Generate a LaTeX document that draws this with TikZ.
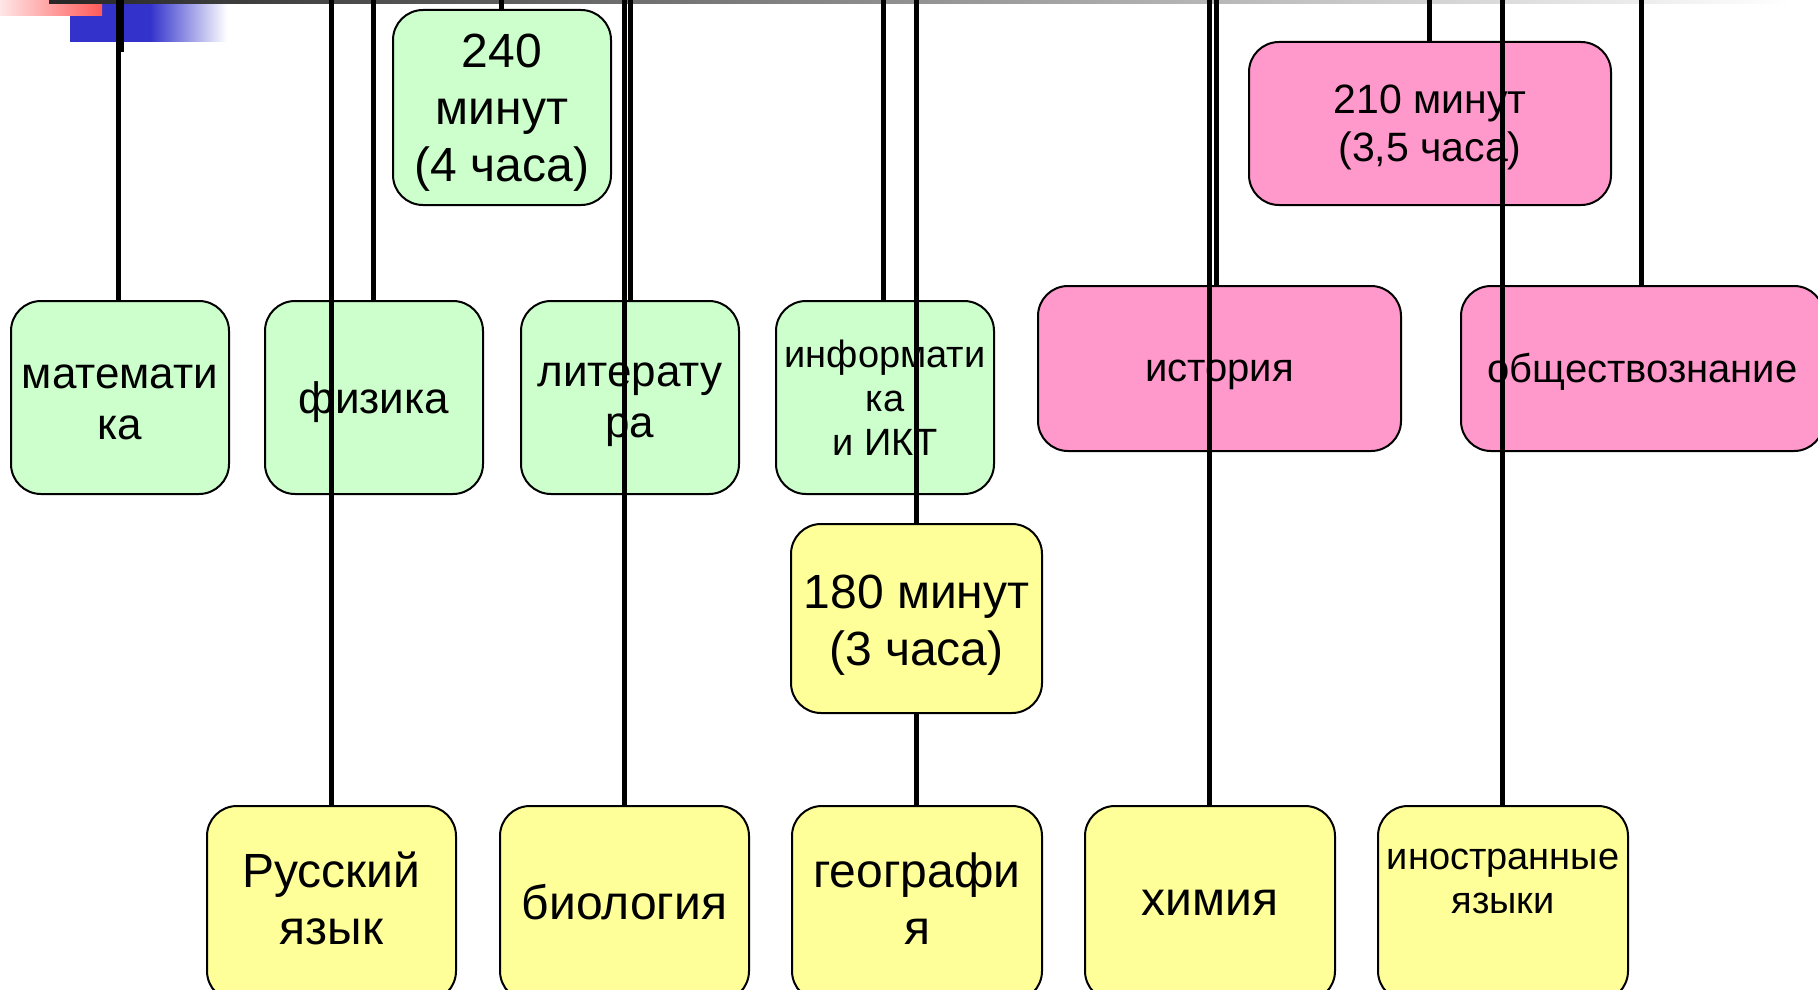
\documentclass[tikz,border=0pt]{standalone}
\usepackage{fontspec}
\setmainfont{Liberation Sans}
\definecolor{gfill}{HTML}{CCFFCC}
\definecolor{pfill}{HTML}{FF99CC}
\definecolor{yfill}{HTML}{FFFF99}
\definecolor{bblue}{HTML}{3333CC}
\definecolor{rred}{HTML}{FF5A5A}
\definecolor{rpale}{HTML}{FFE6E6}
\definecolor{bardark}{HTML}{262626}
% struts for the first and last text line of a box
\newcommand\topst[1]{\rule{0pt}{\dimexpr0.7\baselineskip+#1pt\relax}}
\newcommand\botst{\rule[-0.3\baselineskip]{0pt}{0.3\baselineskip}}
\tikzset{
  boxbase/.style={draw=black, line width=2pt, rounded corners=30pt, inner sep=0pt,
    align=center, anchor=north west, text=black},
  gbox/.style={boxbase, fill=gfill, minimum width=218pt, minimum height=193pt},
  pbox/.style={boxbase, fill=pfill, minimum width=363pt, minimum height=165pt},
  ybox/.style={boxbase, fill=yfill, minimum width=250pt, minimum height=195pt},
  conn/.style={draw=black, line width=5pt},
  fbig/.style={font=\fontsize{48}{57}\selectfont},
  fmid/.style={font=\fontsize{44}{51}\selectfont},
  fsmall/.style={font=\fontsize{38}{44}\selectfont},
  fpink/.style={font=\fontsize{40}{47}\selectfont},
}
\begin{document}
\begin{tikzpicture}[x=1pt,y=-1pt]
\clip (0,0) rectangle (1818,990);
\fill[white] (0,0) rectangle (1818,990);
% decorative corner
\fill[bblue] (70,4) rectangle (150,42);
\shade[left color=bblue, right color=white] (150,4) rectangle (227,42);
\shade[left color=rpale, right color=rred] (0,0) rectangle (102,16);
\shade[left color=bardark, right color=white] (49,0) rectangle (1790,4);

% boxes
\node[gbox, fmid] (mat) at (10,300) {\topst{12.4}математи\\ка\botst};
\node[gbox, fmid] (fiz) at (264,300) {\topst{12.4}физика\botst};
\node[gbox, fmid] (lit) at (520,300) {\topst{8.6}литерату\\ра\botst};
\node[gbox, fsmall] (inf) at (775,300) {\topst{10}информати\\ка\\и ИКТ\botst};
\node[gbox, fbig, minimum height=195pt] (t240) at (392,9) {\topst{11.6}240\\минут\\(4 часа)\botst};
\node[pbox, fpink] (ist) at (1037,285) {\topst{7.6}история\botst};
\node[pbox, fpink] (obs) at (1460,285) {\topst{8.2}обществознание\botst};
\node[pbox, font=\fontsize{41}{48}\selectfont, minimum width=362pt, minimum height=163pt] (t210) at (1248,41) {\topst{9.6}210 минут\\(3,5 часа)\botst};
\node[ybox, fbig, minimum width=251pt, minimum height=189pt] (t180) at (790,523) {\topst{13.6}180 минут\\(3 часа)\botst};
\node[ybox, fbig, minimum width=249pt] (rus) at (206,805) {\topst{2.7}Русский\\язык\botst};
\node[ybox, fbig, minimum width=249pt] (bio) at (499,805) {\topst{9.2}биология\botst};
\node[ybox, fbig] (geo) at (791,805) {\topst{2.2}географи\\я\botst};
\node[ybox, fbig] (him) at (1084,805) {\topst{2}химия\botst};
\node[ybox, fsmall] (ino) at (1377,805) {\topst{2}иностранные\\языки\\\mbox{}\botst};

% tops of connectors
\coordinate (cMat) at (118.5,0);
\coordinate (cRus) at (331,0);
\coordinate (cFiz) at (373,0);
\coordinate (cT240) at (501,0);
\coordinate (cBio) at (624,0);
\coordinate (cLit) at (630,0);
\coordinate (cInf) at (883,0);
\coordinate (cT180) at (916,0);
\coordinate (cHim) at (1209,0);
\coordinate (cIst) at (1216,0);
\coordinate (cT210) at (1429,0);
\coordinate (cIno) at (1502,0);
\coordinate (cObs) at (1641,0);
\coordinate (cStub) at (122.5,0);

% connectors
\draw[conn] (cMat) -- (cMat |- mat.north);
\draw[conn, line width=3pt] (cStub) -- ++(0,52);
\draw[conn] (cRus) -- (cRus |- rus.north);
\draw[conn] (cFiz) -- (cFiz |- fiz.north);
\draw[conn] (cT240) -- (cT240 |- t240.north);
\draw[conn] (cBio) -- (cBio |- bio.north);
\draw[conn] (cLit) -- (cLit |- lit.north);
\draw[conn] (cInf) -- (cInf |- inf.north);
\draw[conn] (cT180) -- (cT180 |- t180.north);
\draw[conn] (t180.south -| cT180) -- (geo.north -| cT180);
\draw[conn] (cHim) -- (cHim |- him.north);
\draw[conn] (cIst) -- (cIst |- ist.north);
\draw[conn] (cT210) -- (cT210 |- t210.north);
\draw[conn] (cIno) -- (cIno |- ino.north);
\draw[conn] (cObs) -- (cObs |- obs.north);
\end{tikzpicture}
\end{document}
